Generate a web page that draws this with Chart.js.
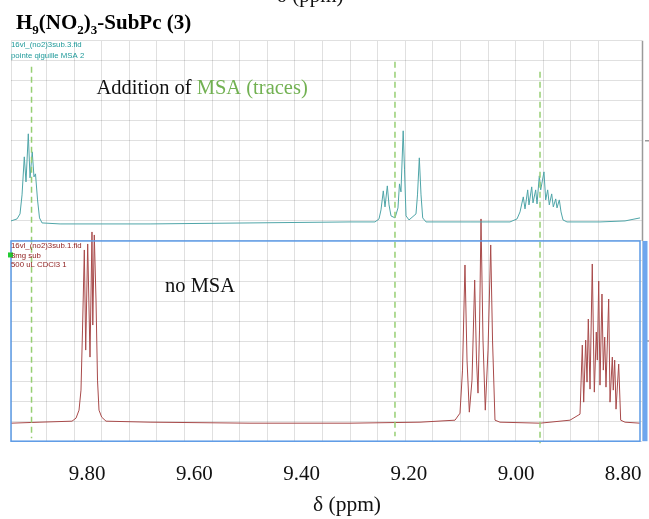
<!DOCTYPE html>
<html>
<head>
<meta charset="utf-8">
<script src="https://cdn.jsdelivr.net/npm/chart.js@4/dist/chart.umd.min.js"></script>
<style>
  html, body { margin: 0; padding: 0; background: #fff; }
  #wrap { width: 649px; height: 519px; position: relative; }
</style>
</head>
<body>
<div id="wrap"><canvas id="nmr"></canvas></div>
<script>
// upper trace: with MSA (traces)
const upperPpm = [9.9422, 9.9310, 9.9254, 9.9216, 9.9174, 9.9142, 9.9099, 9.9067, 9.9026, 9.8993, 9.8965, 9.8927, 9.8890, 9.8843,
  9.8507, 9.6828, 9.4963, 9.3097, 9.2631, 9.2556, 9.2519, 9.2476, 9.2444, 9.2401, 9.2369, 9.2332, 9.2257, 9.2202, 9.2174,
  9.2146, 9.2105, 9.2080, 9.2052, 9.1996, 9.1866, 9.1838, 9.1804, 9.1772, 9.1741, 9.1679, 9.0858, 9.0112, 8.9981, 8.9925,
  8.9864, 8.9832, 8.9782, 8.9758, 8.9707, 8.9683, 8.9633, 8.9608, 8.9565, 8.9539, 8.9478, 8.9446, 8.9409, 8.9379, 8.9334,
  8.9304, 8.9259, 8.9235, 8.9192, 8.9160, 8.9123, 8.9049, 8.8433, 8.7966, 8.7687];
const upperInt = [220, 222, 227, 246, 284, 259, 307, 263, 289, 264, 267, 241, 223, 218,
  217, 217, 218, 219, 219, 222, 231, 250, 234, 255, 236, 225, 223, 233, 257,
  249, 310, 271, 225, 221, 227, 246, 283, 246, 223, 219, 219, 219, 222, 229,
  244, 232, 251, 236, 254, 238, 251, 237, 265, 251, 269, 241, 251, 236, 247,
  234, 242, 233, 241, 229, 221, 219, 219, 220, 223];

// lower trace: no MSA
const lowerPpm = [9.9422, 9.8881, 9.8284, 9.8209, 9.8153, 9.8116, 9.8088, 9.8054, 9.8028, 9.7991, 9.7948, 9.7911, 9.7896,
  9.7868, 9.7836, 9.7808, 9.7780, 9.7730, 9.7649, 9.6828, 9.4963, 9.3097, 9.1791, 9.1138, 9.1045, 9.0998, 9.0952, 9.0914,
  9.0871, 9.0821, 9.0771, 9.0737, 9.0709, 9.0681, 9.0653, 9.0616, 9.0573, 9.0522, 9.0472, 9.0438, 9.0392, 9.0299, 8.9552,
  8.8993, 8.8806, 8.8763, 8.8737, 8.8700, 8.8675, 8.8651, 8.8619, 8.8577, 8.8539, 8.8502, 8.8483, 8.8457, 8.8433, 8.8396,
  8.8371, 8.8345, 8.8321, 8.8271, 8.8246, 8.8203, 8.8185, 8.8159, 8.8134, 8.8084, 8.8047, 8.7966, 8.7687];
const lowerInt = [18, 19, 20, 23, 31, 51, 111, 191, 91, 197, 84, 209, 116,
  206, 141, 61, 31, 24, 20, 19, 18, 18, 19, 21, 28, 71, 176, 81,
  29, 61, 161, 81, 48, 111, 222, 101, 31, 91, 196, 101, 21, 19, 18,
  21, 27, 96, 39, 101, 59, 122, 52, 177, 49, 109, 81, 160, 56, 147,
  71, 104, 54, 142, 39, 84, 51, 81, 32, 77, 21, 19, 18];

// green dashed markers
const markPpm = [9.9039, 9.2258, 8.9552];
const markTop = [374, 379, 369];
const markBottom = [3, 5, -2];

const tickValues = [9.80, 9.60, 9.40, 9.20, 9.00, 8.80];

const serif = '"Liberation Serif", "Times New Roman", serif';
const sans = '"Liberation Sans", Arial, sans-serif';
const gridColor = 'rgba(0,0,0,0.12)';

function toPts(xs, ys) {
  return xs.map((v, i) => ({ x: v, y: ys[i] }));
}

const datasets = [];
markPpm.forEach((p, i) => {
  datasets.push({
    data: [{ x: p, y: markTop[i] }, { x: p, y: markBottom[i] }],
    borderColor: '#97cf74',
    borderWidth: 1.5,
    borderDash: [6, 4],
    pointRadius: 0,
    clip: false,
    order: 1,
    xAxisID: 'x', yAxisID: 'y'
  });
});
datasets.push({
  data: toPts(upperPpm, upperInt),
  borderColor: '#4fa5a8',
  borderWidth: 1,
  pointRadius: 0,
  order: 2,
  xAxisID: 'x', yAxisID: 'y'
});
datasets.push({
  data: toPts(lowerPpm, lowerInt),
  borderColor: '#a84a4a',
  borderWidth: 1,
  pointRadius: 0,
  clip: false,
  order: 2,
  xAxisID: 'x', yAxisID: 'y'
});

// draws a run of text pieces: [text, font, dy, color]
function drawRuns(ctx, x, y, runs) {
  runs.forEach(r => {
    ctx.font = r[1];
    ctx.fillStyle = r[3] || '#000';
    ctx.fillText(r[0], x, y + r[2]);
    x += ctx.measureText(r[0]).width;
  });
}

const decor = {
  id: 'decor',
  afterDraw(chart) {
    const ctx = chart.ctx;
    const a = chart.chartArea;
    const ys = chart.scales.y;
    const mid = ys.getPixelForValue(200);
    ctx.save();

    // gray frame at right of top spectrum
    ctx.strokeStyle = '#9a9a9a';
    ctx.lineWidth = 1.5;
    ctx.beginPath();
    ctx.moveTo(a.right + 0.5, a.top);
    ctx.lineTo(a.right + 0.5, mid);
    ctx.stroke();
    ctx.beginPath();
    ctx.moveTo(a.right + 3, ys.getPixelForValue(300));
    ctx.lineTo(a.right + 7, ys.getPixelForValue(300));
    ctx.moveTo(a.right + 3, ys.getPixelForValue(100));
    ctx.lineTo(a.right + 7, ys.getPixelForValue(100));
    ctx.stroke();

    // blue selection box around lower spectrum
    ctx.strokeStyle = '#5b9ae6';
    ctx.lineWidth = 1.5;
    ctx.strokeRect(a.left, mid, a.right - 2 - a.left, a.bottom - mid);
    ctx.fillStyle = '#6ea6ee';
    ctx.fillRect(a.right + 0.5, mid, 5, a.bottom - mid);

    // green handle
    ctx.fillStyle = '#22cc33';
    ctx.fillRect(a.left - 3, mid + 11.5, 5, 5);

    ctx.textBaseline = 'alphabetic';
    ctx.textAlign = 'left';

    // spectrum labels
    ctx.font = '7.8px ' + sans;
    ctx.fillStyle = '#1f9a9a';
    ctx.fillText('16vl_(no2)3sub.3.fid', a.left, 47.3);
    ctx.fillText('pointe qiguille MSA 2', a.left, 58.3);
    ctx.fillStyle = '#8e1c1c';
    ctx.fillText('16vl_(no2)3sub.1.fid', a.left, 248.3);
    ctx.fillText('3mg sub', a.left, 258.3);
    ctx.fillText('500 uL CDCl3 1', a.left, 267.3);

    // annotations
    drawRuns(ctx, 96.5, 93.5, [
      ['Addition of ', '20.5px ' + serif, 0, '#111'],
      ['MSA (traces)', '20.5px ' + serif, 0, '#72b152']
    ]);
    drawRuns(ctx, 165, 291.5, [['no MSA', '20.5px ' + serif, 0, '#111']]);

    // title
    const big = 'bold 21px ' + serif;
    const sm = 'bold 13px ' + serif;
    drawRuns(ctx, 16, 28.5, [
      ['H', big, 0], ['9', sm, 5], ['(NO', big, 0], ['2', sm, 5],
      [')', big, 0], ['3', sm, 5], ['-SubPc (3)', big, 0]
    ]);

    // leftover axis title from the figure above, cut at the top edge
    drawRuns(ctx, 277, 2, [['\u03b4 (ppm)', '21px ' + serif, 0, '#111']]);

    // x axis title
    ctx.textAlign = 'center';
    ctx.font = '21.5px ' + serif;
    ctx.fillStyle = '#111';
    ctx.fillText('\u03b4 (ppm)', 347, 511);
    ctx.restore();
  }
};

new Chart(document.getElementById('nmr'), {
  type: 'line',
  data: { datasets: datasets },
  options: {
    responsive: true,
    maintainAspectRatio: false,
    animation: false,
    layout: { padding: { left: 11, right: 7, top: 40.7, bottom: 10.6 } },
    plugins: { legend: { display: false }, tooltip: { enabled: false } },
    scales: {
      x: {
        type: 'linear',
        position: 'bottom',
        reverse: true,
        min: 8.76493,
        max: 9.9422,
        afterBuildTicks: axis => { axis.ticks = tickValues.map(v => ({ value: v })); },
        afterFit: axis => { axis.paddingLeft = 0; axis.paddingRight = 0; },
        ticks: {
          callback: v => v.toFixed(2),
          font: { family: serif, size: 21 },
          color: '#111',
          padding: 21,
          maxRotation: 0,
          autoSkip: false
        },
        grid: { display: false, drawTicks: false },
        border: { display: false }
      },
      xg: {
        type: 'linear',
        axis: 'x',
        position: 'top',
        min: -0.29,
        max: 22.58,
        ticks: { display: false, stepSize: 1 },
        grid: { color: gridColor, drawTicks: false },
        border: { display: false }
      },
      y: {
        type: 'linear',
        min: 0,
        max: 400,
        ticks: { display: false, stepSize: 20 },
        grid: { color: gridColor, drawTicks: false },
        border: { display: false }
      }
    }
  },
  plugins: [decor]
});
</script>
</body>
</html>
